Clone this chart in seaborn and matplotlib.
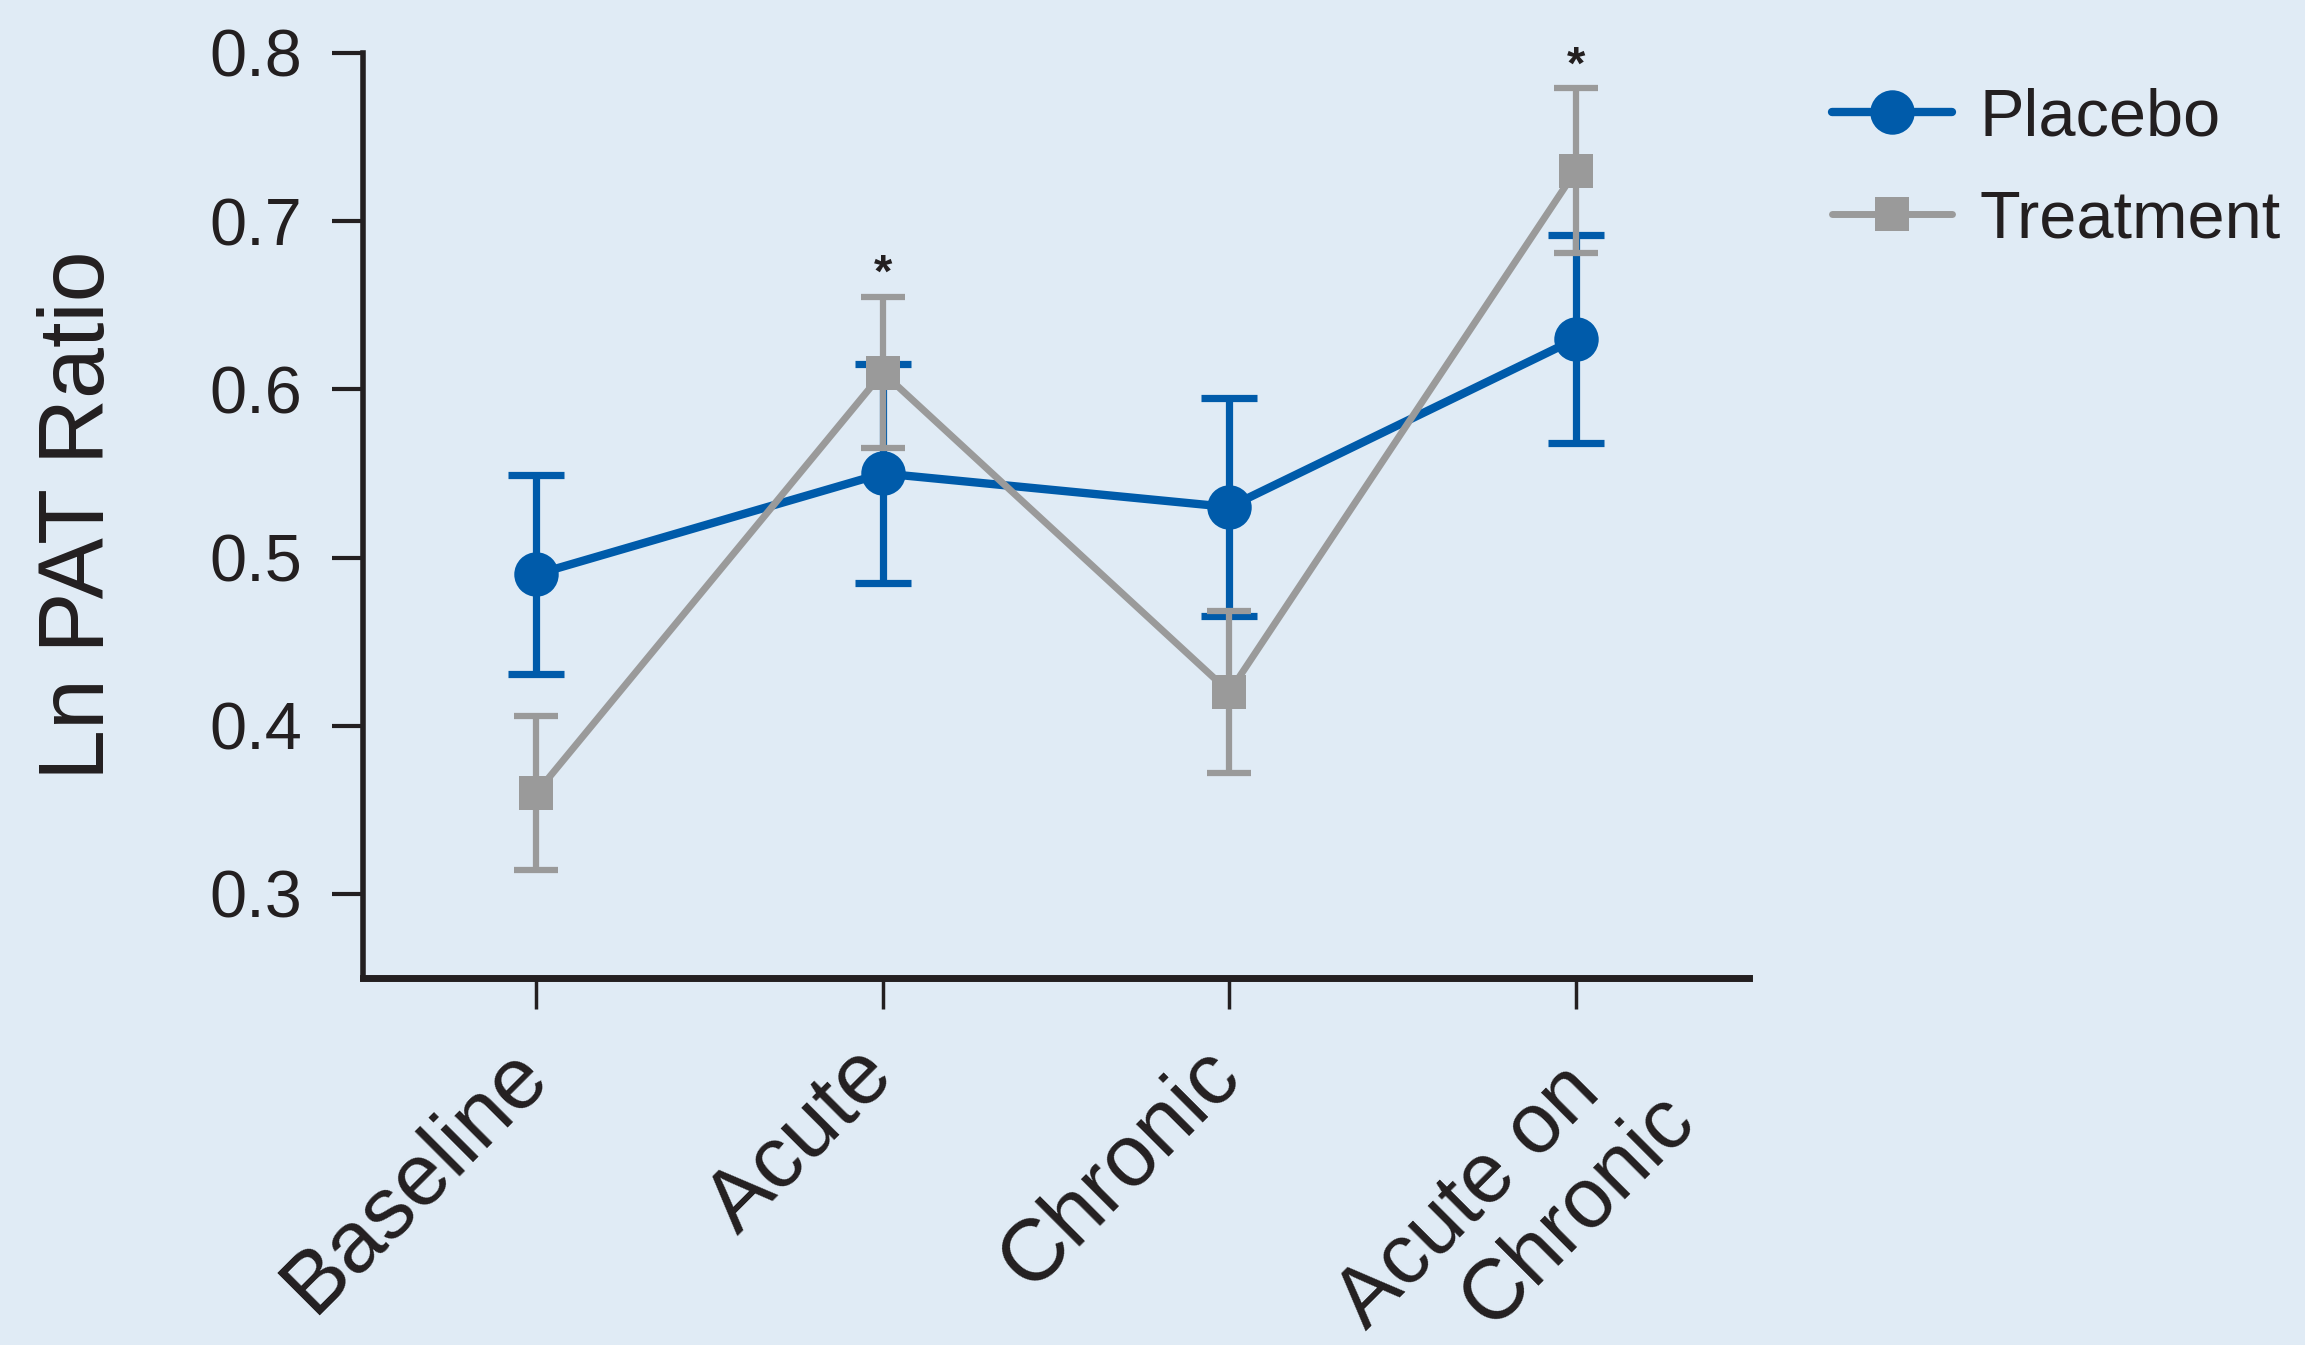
import matplotlib
matplotlib.use("Agg")
import matplotlib.pyplot as plt
import matplotlib.transforms as mtrans
import seaborn as sns
import pandas as pd
import numpy as np

# ---- data ----
categories = ["Baseline", "Acute", "Chronic", "Acute on  \nChronic"]
placebo_mean = [0.49, 0.55, 0.53, 0.63]
placebo_err = [0.059, 0.065, 0.065, 0.062]
treatment_mean = [0.36, 0.61, 0.42, 0.73]
treatment_err = [0.046, 0.045, 0.048, 0.049]
significant = [False, True, False, True]
yticks = [0.3, 0.4, 0.5, 0.6, 0.7, 0.8]

BG = "#E0EBF5"
BLUE = "#005BAA"
GRAY = "#9A9A9A"
INK = "#231F20"

sns.set_theme(style="ticks")
plt.rcParams["font.family"] = ["Liberation Sans", "DejaVu Sans"]
plt.rcParams["text.color"] = INK
plt.rcParams["axes.labelcolor"] = INK
plt.rcParams["xtick.color"] = INK
plt.rcParams["ytick.color"] = INK

df_p = pd.DataFrame({"cond": categories, "val": placebo_mean, "err": placebo_err})
df_t = pd.DataFrame({"cond": categories, "val": treatment_mean, "err": treatment_err})

fig = plt.figure(figsize=(23.05, 13.45), dpi=100, facecolor=BG)
ax = fig.add_axes([0.1575, 0.2729, 0.6013, 0.6877])
ax.set_facecolor(BG)

sns.lineplot(data=df_p, x="cond", y="val", ax=ax, color=BLUE, marker="o",
             markersize=32, markeredgewidth=0, linewidth=6, label="Placebo",
             zorder=3, sort=False)
ax.errorbar(df_p["cond"], df_p["val"], yerr=df_p["err"], fmt="none",
            ecolor=BLUE, elinewidth=5.2, capsize=20, capthick=5.2, zorder=2)

sns.lineplot(data=df_t, x="cond", y="val", ax=ax, color=GRAY, marker="s",
             markersize=24, markeredgewidth=0, linewidth=5, label="Treatment",
             zorder=5, sort=False)
ax.errorbar(df_t["cond"], df_t["val"], yerr=df_t["err"], fmt="none",
            ecolor=GRAY, elinewidth=4.5, capsize=16, capthick=4.5, zorder=4)

for ln in ax.lines:
    if ln.get_label() == "Placebo":
        ln.set_linewidth(6)
    elif ln.get_label() == "Treatment":
        ln.set_linewidth(5)

for i, (m, e, s) in enumerate(zip(treatment_mean, treatment_err, significant)):
    if s:
        ax.text(i, m + e, "*", ha="center", va="bottom",
                fontsize=34, color=INK, fontweight="bold")

ax.set_xlim(-0.5, 3.5)
ax.set_ylim(0.25, 0.8)
ax.set_yticks(yticks)
ax.set_yticklabels([f"{v:.1f}" for v in yticks], fontsize=48)
ax.set_xlabel("")
ax.set_ylabel("Ln PAT Ratio", fontsize=66, labelpad=62)
ax.tick_params(axis="x", length=22, width=2.5, pad=18)
ax.tick_params(axis="y", length=22, width=3, pad=22)
offset = mtrans.ScaledTranslation(-22 / 72, 0, fig.dpi_scale_trans)
offset_multi = mtrans.ScaledTranslation(12 / 72, 11 / 72, fig.dpi_scale_trans)
for lbl in ax.get_xticklabels():
    lbl.set_rotation(45)
    lbl.set_ha("right")
    lbl.set_rotation_mode("anchor")
    if "\n" in lbl.get_text():
        lbl.set_fontsize(61)
        lbl.set_multialignment("right")
        lbl.set_linespacing(1.1)
        lbl.set_transform(lbl.get_transform() + offset_multi)
    else:
        lbl.set_fontsize(63)
        lbl.set_transform(lbl.get_transform() + offset)

sns.despine(ax=ax)
ax.spines["left"].set_linewidth(4)
ax.spines["bottom"].set_linewidth(5)
ax.spines["left"].set_color(INK)
ax.spines["bottom"].set_color(INK)
ax.grid(False)

h, l = ax.get_legend_handles_labels()
leg = ax.legend(h, l, loc="upper left", bbox_to_anchor=(0.795, 0.935),
                bbox_transform=fig.transFigure, frameon=False, fontsize=48,
                handlelength=1.8, handletextpad=0.4, labelspacing=0.6,
                borderpad=0, borderaxespad=0)
for lh, lw in zip(leg.get_lines(), [6, 5]):
    lh.set_linewidth(lw)

fig.savefig("out.png", dpi=100, facecolor=BG)
